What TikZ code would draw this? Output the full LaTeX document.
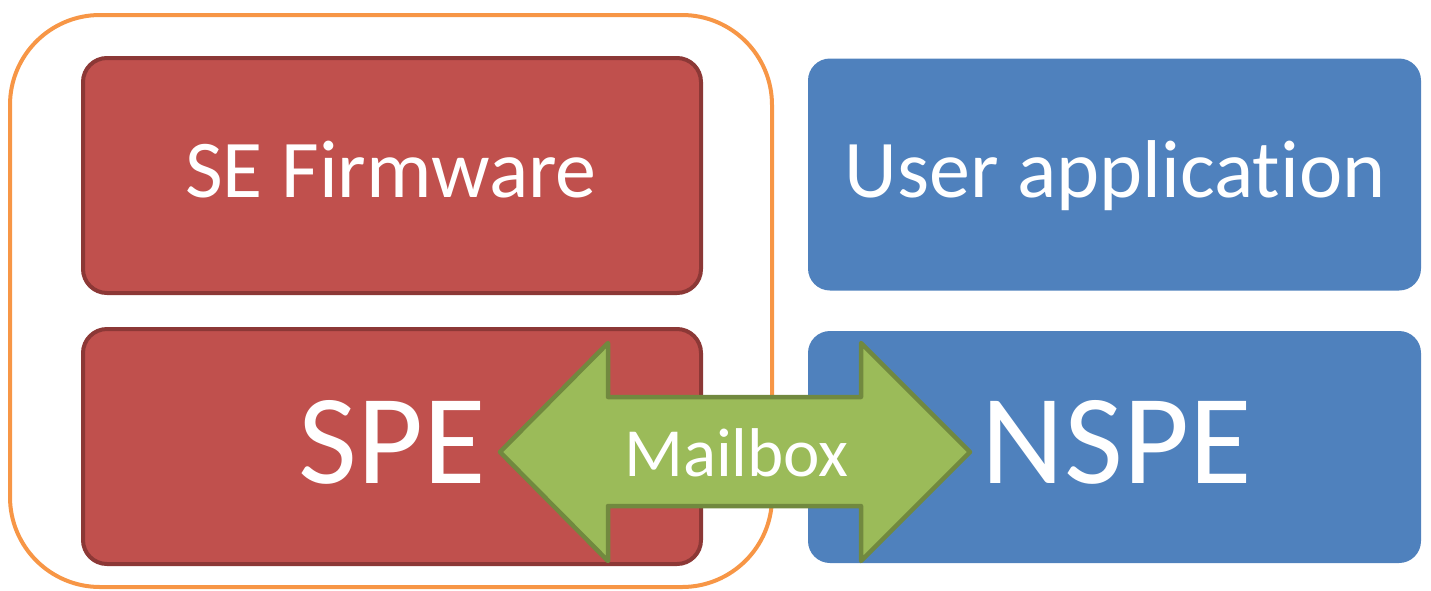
\documentclass[tikz,border=0pt]{standalone}
\usepackage{fontspec}
\setmainfont{Carlito}[Ligatures=NoCommon]
\definecolor{secorange}{HTML}{F79646}
\definecolor{sefill}{HTML}{C0504D}
\definecolor{seline}{HTML}{8C3836}
\definecolor{nsfill}{HTML}{4F81BD}
\definecolor{mbfill}{HTML}{9BBB59}
\definecolor{mbline}{HTML}{71893F}
\tikzset{
  securebox/.style={draw=seline, line width=4pt, fill=sefill, rounded corners=24pt,
    minimum width=618pt, minimum height=235pt, inner sep=0pt},
  userbox/.style={fill=nsfill, rounded corners=22pt,
    minimum width=613pt, minimum height=232pt, inner sep=0pt},
  boxlabel/.style={text=white, inner sep=0pt, anchor=base, font=\fontsize{82}{90}\selectfont},
  biglabel/.style={text=white, inner sep=0pt, anchor=base, font=\fontsize{128}{140}\selectfont},
  mailarrow/.style={draw=mbline, fill=mbfill, line width=4.5pt, line join=round},
}
\begin{document}
\begin{tikzpicture}[x=1pt,y=-1pt]
\useasboundingbox (0,0) rectangle (1431,590);
% secure domain frame
\draw[secorange, line width=4pt, rounded corners=90pt] (10,15) rectangle (772,587);
% secure side
\node[securebox] (sefw) at (392,175.5) {};
\node[securebox] (spe) at (392,446.5) {};
% non-secure side
\node[userbox] (app) at (1114.5,174.5) {};
\node[userbox] (nspe) at (1114.5,447) {};
\node[boxlabel] (sefwtext) at (391,197) {SE Firmware};
\node[boxlabel] (apptext) at (1115,197) {User application};
\node[biglabel] (spetext) at (392,483) {SPE};
\node[biglabel] (nspetext) at (1117,483) {NSPE};
% mailbox double arrow between SPE and NSPE
\coordinate (lt) at (500,452);
\coordinate (rt) at (970,452);
\path[mailarrow] (lt) -- (608,343) -- (608,397) -- (861,397) -- (861,343) -- (rt)
  -- (861,561) -- (861,506) -- (608,506) -- (608,561) -- cycle;
\node[text=white, inner sep=0pt, anchor=base, font=\fontsize{69}{72}\selectfont] (mb) at (736.5,476) {Mailbox};
\end{tikzpicture}
\end{document}
